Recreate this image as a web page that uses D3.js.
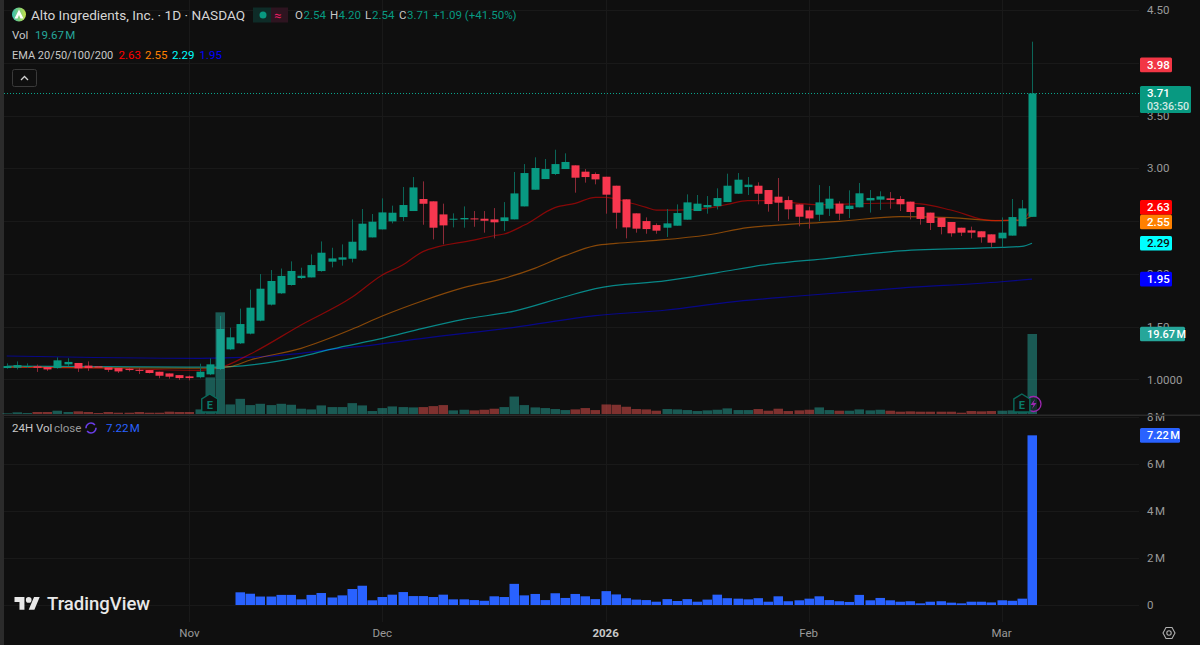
<!DOCTYPE html>
<html>
<head>
<meta charset="utf-8">
<script src="https://cdn.jsdelivr.net/npm/d3@7"></script>
<style>
  html, body { margin: 0; padding: 0; background: #0f0f0f; overflow: hidden; }
  text { font-family: Roboto, "Liberation Sans", sans-serif; }
</style>
</head>
<body>
<svg id="chart" width="1200" height="645"></svg>
<script>
// daily candles
var opens = [1.107,1.11,1.117,1.123,1.116,1.107,1.142,1.155,1.13,1.123,
  1.113,1.107,1.10,1.09,1.088,1.072,1.056,1.04,1.028,1.02,
  1.047,1.098,1.284,1.341,1.433,1.556,1.708,1.815,1.894,1.96,
  1.966,2.026,2.115,2.134,2.143,2.222,2.345,2.421,2.497,2.538,
  2.595,2.709,2.687,2.563,2.516,2.516,2.525,2.522,2.516,2.50,
  2.516,2.639,2.797,2.898,2.946,2.993,3.028,2.968,2.946,2.92,
  2.835,2.706,2.573,2.50,2.462,2.437,2.456,2.513,2.595,2.63,
  2.642,2.68,2.759,2.822,2.835,2.794,2.731,2.699,2.658,2.601,
  2.56,2.617,2.665,2.614,2.63,2.696,2.703,2.715,2.709,2.684,
  2.633,2.58,2.532,2.491,2.437,2.412,2.403,2.374,2.336,2.362,
  2.45,2.54];
var closes = [1.126,1.135,1.126,1.11,1.094,1.18,1.165,1.104,1.107,1.112,
  1.09,1.075,1.088,1.08,1.06,1.034,1.025,1.012,1.012,1.072,
  1.142,1.477,1.398,1.524,1.679,1.859,1.932,1.98,2.027,1.982,
  2.083,2.20,2.146,2.156,2.304,2.475,2.494,2.582,2.579,2.652,
  2.819,2.664,2.437,2.459,2.522,2.529,2.522,2.503,2.488,2.535,
  2.762,2.955,3.003,2.993,3.04,3.06,2.911,2.917,2.895,2.75,
  2.579,2.44,2.428,2.424,2.409,2.478,2.576,2.677,2.665,2.652,
  2.718,2.835,2.892,2.845,2.759,2.661,2.674,2.611,2.541,2.525,
  2.677,2.712,2.57,2.646,2.763,2.719,2.734,2.70,2.659,2.586,
  2.52,2.482,2.444,2.384,2.39,2.39,2.346,2.295,2.39,2.538,
  2.62,3.71];
var highs = [1.151,1.17,1.151,1.14,1.116,1.208,1.20,1.155,1.17,1.125,
  1.113,1.113,1.113,1.107,1.088,1.072,1.056,1.04,1.037,1.148,
  1.199,1.60,1.49,1.67,1.85,1.998,2.036,2.05,2.118,2.058,
  2.184,2.307,2.247,2.279,2.516,2.614,2.567,2.715,2.646,2.823,
  2.917,2.876,2.687,2.665,2.573,2.639,2.595,2.595,2.623,2.68,
  2.965,3.04,3.104,3.088,3.176,3.142,3.028,2.993,2.961,2.92,
  2.835,2.706,2.573,2.535,2.478,2.614,2.658,2.753,2.747,2.737,
  2.81,2.949,2.955,2.917,2.867,2.794,2.908,2.734,2.658,2.636,
  2.841,2.832,2.687,2.791,2.861,2.794,2.782,2.775,2.737,2.684,
  2.633,2.58,2.532,2.491,2.437,2.447,2.403,2.374,2.535,2.709,
  2.70,4.20];
var lows = [1.101,1.094,1.107,1.07,1.08,1.10,1.126,1.07,1.08,1.107,
  1.07,1.06,1.075,1.05,1.056,1.01,1.006,.994,.99,1.01,
  1.04,1.088,1.277,1.335,1.426,1.55,1.70,1.81,1.888,1.95,
  1.966,2.02,2.061,2.077,2.108,2.216,2.345,2.421,2.478,2.50,
  2.595,2.465,2.326,2.279,2.44,2.437,2.446,2.39,2.336,2.405,
  2.516,2.639,2.797,2.898,2.936,2.993,2.769,2.864,2.848,2.57,
  2.428,2.336,2.39,2.38,2.38,2.349,2.456,2.513,2.595,2.57,
  2.61,2.68,2.759,2.747,2.658,2.589,2.50,2.516,2.45,2.428,
  2.50,2.548,2.51,2.529,2.63,2.58,2.605,2.617,2.595,2.516,
  2.466,2.415,2.374,2.352,2.358,2.336,2.295,2.251,2.251,2.362,
  2.45,2.54];

// volume in millions
var volumes = [.16,.41,.24,.49,.49,.81,.49,.65,.49,.24,
  .49,.32,.32,.49,.32,.32,.57,.49,.49,1.13,
  9.0,25.0,2.35,3.73,2.19,2.51,2.19,2.51,2.27,1.30,
  1.13,2.11,1.70,1.70,2.67,2.11,.73,1.46,1.86,1.70,
  1.62,1.70,1.94,2.19,.89,1.05,.89,1.05,1.30,1.70,
  4.29,2.19,1.62,1.46,1.22,.97,1.13,1.46,.97,2.35,
  2.27,1.78,1.22,1.13,.81,1.22,1.13,.97,.73,.89,
  1.05,1.38,.97,.97,1.22,.81,1.30,.73,.89,1.05,
  1.62,.97,.81,.81,1.13,.89,1.05,.81,.57,.65,
  .57,.57,.57,.57,.32,.73,.65,.73,.81,.89,
  .5,19.67];

// 24H vol close in millions, first bar is candle 23
var vol24First = 23;
var vol24 = [.54,.48,.36,.36,.43,.43,.24,.43,.51,.32,
  .41,.68,.82,.20,.34,.44,.55,.38,.38,.34,
  .44,.24,.24,.21,.18,.37,.34,.90,.41,.47,
  .21,.50,.30,.47,.37,.25,.59,.45,.29,.23,
  .21,.14,.25,.17,.25,.14,.23,.44,.29,.27,
  .24,.29,.14,.37,.16,.20,.27,.37,.21,.16,
  .13,.43,.20,.30,.20,.14,.16,.07,.14,.16,
  .10,.07,.14,.14,.11,.20,.18,.27,7.22];

// EMA readings as [candle, price]
var ema20 = [[0,1.115],[10,1.105],[19,1.085],[21,1.11],[24,1.24],[29,1.515],[34,1.777],[37,1.989],[39,2.083],[41,2.21],[46,2.32],[48,2.361],[49,2.377],[51,2.462],[54,2.627],[56,2.668],[58,2.725],[59,2.725],[61,2.683],[63,2.63],[64,2.604],[66,2.604],[69,2.62],[71,2.658],[73,2.693],[75,2.693],[77,2.677],[80,2.655],[82,2.66],[88,2.671],[90,2.662],[93,2.605],[97,2.504],[100,2.51],[101,2.63]];
var ema50 = [[0,1.115],[20,1.105],[22,1.12],[24,1.183],[29,1.294],[34,1.474],[37,1.60],[41,1.745],[45,1.869],[49,1.957],[52,2.052],[55,2.172],[58,2.267],[60,2.288],[64,2.317],[69,2.368],[73,2.437],[77,2.469],[80,2.485],[82,2.497],[88,2.542],[93,2.532],[98,2.504],[100,2.51],[101,2.55]];
var ema100 = [[0,1.125],[20,1.115],[22,1.12],[29,1.215],[32,1.287],[37,1.388],[41,1.483],[45,1.568],[50,1.647],[55,1.783],[58,1.86],[65,1.935],[70,2.011],[75,2.09],[81,2.147],[88,2.218],[98,2.251],[100,2.26],[101,2.29]];
var ema200 = [[0,1.221],[19,1.199],[24,1.21],[29,1.246],[32,1.284],[36,1.325],[41,1.388],[50,1.493],[58,1.603],[65,1.657],[71,1.73],[78,1.79],[88,1.865],[98,1.925],[101,1.95]];
var emaColors = ["#ff0000", "#ff8000", "#00ffff", "#0000ff"];

var priceTicks = [1, 1.5, 2, 2.5, 3, 3.5, 4, 4.5];
var vol24Ticks = [0, 2, 4, 6, 8];
var monthTicks = [18, 37, 59, 79, 98];
var monthLabels = ["Nov", "Dec", "2026", "Feb", "Mar"];

var priceTags = [
  {v: 3.98, t: "3.98", bg: "#f23645", fg: "#fff"},
  {v: 2.63, t: "2.63", bg: "#ff0000", fg: "#fff"},
  {v: 2.55, t: "2.55", bg: "#ff8000", fg: "#fff"},
  {v: 2.29, t: "2.29", bg: "#00ffff", fg: "#0f0f0f"},
  {v: 1.95, t: "1.95", bg: "#0000ff", fg: "#fff"}
];

var upColor = "#089981", downColor = "#f7374f";
var gridColor = "#191919", labelColor = "#9a9a9a";
var axisX = 1139;

var svg = d3.select("#chart");
svg.append("rect").attr("width", 1200).attr("height", 645).attr("fill", "#0f0f0f");

// scales
var x = d3.scaleLinear().domain([0, closes.length - 1]).range([6.7, 1032]);
var yPrice = d3.scaleLinear().domain([0.662, 4.595]).range([415, 0]);
var yVol = d3.scaleLinear().domain([0, 19.67]).range([414, 334]);
var yVol24 = d3.scaleLinear().domain([0, 8]).range([605, 417]);

// grid
var grid = svg.append("g").attr("stroke", gridColor).attr("stroke-width", 1);
priceTicks.forEach(function(p) {
  grid.append("line").attr("x1", 4).attr("x2", axisX).attr("y1", Math.round(yPrice(p)) + .5).attr("y2", Math.round(yPrice(p)) + .5);
});
vol24Ticks.forEach(function(v) {
  grid.append("line").attr("x1", 4).attr("x2", axisX).attr("y1", Math.round(yVol24(v)) + .5).attr("y2", Math.round(yVol24(v)) + .5);
});
monthTicks.forEach(function(i) {
  grid.append("line").attr("x1", Math.round(x(i)) + .5).attr("x2", Math.round(x(i)) + .5).attr("y1", 0).attr("y2", 622);
});

// axes
var priceAxis = svg.append("g").attr("transform", "translate(" + axisX + ",0)")
  .call(d3.axisRight(yPrice).tickValues(priceTicks).tickSize(0).tickPadding(8)
    .tickFormat(function(d) { return d === 1 ? "1.0000" : d.toFixed(2); }));
var vol24Axis = svg.append("g").attr("transform", "translate(" + axisX + ",0)")
  .call(d3.axisRight(yVol24).tickValues(vol24Ticks).tickSize(0).tickPadding(8)
    .tickFormat(function(d) { return d === 0 ? "0" : d + "\u202fM"; }));
[priceAxis, vol24Axis].forEach(function(a) {
  a.select(".domain").remove();
  a.selectAll("text").attr("fill", labelColor).style("font-size", "11.5px");
});

// time labels
svg.append("g").selectAll("text").data(monthTicks).enter().append("text")
  .attr("x", function(d) { return x(d); })
  .attr("y", 637)
  .attr("text-anchor", "middle")
  .attr("fill", function(d, i) { return monthLabels[i] === "2026" ? "#c8c8c8" : labelColor; })
  .attr("font-size", 11.5)
  .attr("font-weight", function(d, i) { return monthLabels[i] === "2026" ? 700 : 400; })
  .text(function(d, i) { return monthLabels[i]; });

// separators and window edge
svg.append("rect").attr("x", 0).attr("y", 0).attr("width", 4).attr("height", 645).attr("fill", "#2b2b2b");
svg.append("rect").attr("x", 4).attr("y", 414.5).attr("width", 1196).attr("height", 1.5).attr("fill", "#2a2a2a");

// last price line
svg.append("line").attr("x1", 4).attr("x2", axisX)
  .attr("y1", Math.round(yPrice(closes[closes.length - 1])) + .5)
  .attr("y2", Math.round(yPrice(closes[closes.length - 1])) + .5)
  .attr("stroke", "#0aa58c").attr("stroke-dasharray", "1 2");

// EMAs
var emaLine = d3.line().curve(d3.curveMonotoneX)
  .x(function(d) { return x(d[0]); }).y(function(d) { return yPrice(d[1]); });
[ema200, ema100, ema50, ema20].forEach(function(s, i) {
  svg.append("path").datum(s)
    .attr("fill", "none")
    .attr("stroke", emaColors[3 - i])
    .attr("stroke-opacity", .5)
    .attr("stroke-width", 1.2)
    .attr("d", emaLine);
});

// candles
var candles = svg.append("g").selectAll("g").data(d3.range(closes.length)).enter().append("g");
candles.append("line")
  .attr("x1", function(i) { return Math.round(x(i)) + .5; })
  .attr("x2", function(i) { return Math.round(x(i)) + .5; })
  .attr("y1", function(i) { return yPrice(highs[i]); })
  .attr("y2", function(i) { return yPrice(lows[i]); })
  .attr("stroke", function(i) { return closes[i] >= opens[i] ? "#0b6558" : "#8c2a37"; })
  .attr("stroke-width", 1);
candles.append("rect")
  .attr("x", function(i) { return Math.round(x(i)) - 3.5; })
  .attr("width", 8)
  .attr("y", function(i) { return yPrice(Math.max(opens[i], closes[i])); })
  .attr("height", function(i) { return Math.max(1, Math.abs(yPrice(opens[i]) - yPrice(closes[i]))); })
  .attr("fill", function(i) { return closes[i] >= opens[i] ? upColor : downColor; });

// volume
svg.append("g").selectAll("rect").data(d3.range(volumes.length)).enter().append("rect")
  .attr("x", function(i) { return Math.round(x(i)) - 4.5; })
  .attr("width", 9.5)
  .attr("y", function(i) { return yVol(volumes[i]); })
  .attr("height", function(i) { return yVol(0) - yVol(volumes[i]); })
  .attr("fill", function(i) { return closes[i] >= opens[i] ? "#26a69a" : "#ef5350"; })
  .attr("fill-opacity", .5);

// 24H volume
svg.append("g").selectAll("rect").data(vol24).enter().append("rect")
  .attr("x", function(d, i) { return Math.round(x(i + vol24First)) - 4.5; })
  .attr("width", 9.5)
  .attr("y", function(d) { return yVol24(d); })
  .attr("height", function(d) { return yVol24(0) - yVol24(d); })
  .attr("fill", "#2962ff");

// earnings markers
function earnings(i) {
  var g = svg.append("g").attr("transform", "translate(" + x(i) + ",404)");
  g.append("path").attr("d", "M0,-10 L8,-5 L8,8 L-8,8 L-8,-5 Z")
    .attr("fill", "#0f0f0f").attr("stroke", "#0a6a5c").attr("stroke-width", 1.4);
  g.append("text").attr("y", 4.5).attr("text-anchor", "middle").attr("font-size", 11).attr("font-weight", 700)
    .attr("fill", "#0a7a6a").text("E");
}
var earningsAt = [20, 100];
svg.append("g").attr("transform", "translate(" + (x(101) + 1.5) + ",404)").call(function(g) {
  g.append("circle").attr("r", 7.5).attr("fill", "#0f0f0f").attr("fill-opacity", .6).attr("stroke", "#9c27b0").attr("stroke-width", 1.3);
  g.append("path").attr("d", "M1.5,-5 L-3,1 L0,1 L-1.5,5 L3,-1 L0,-1 Z").attr("fill", "#9c27b0");
});
earningsAt.forEach(earnings);

// right side tags
function tag(y, w, h, bg) {
  svg.append("rect").attr("x", 1140).attr("y", y).attr("width", w).attr("height", h).attr("rx", 1.5).attr("fill", bg);
}
function tagText(xp, y, s, fill, size) {
  svg.append("text").attr("x", xp).attr("y", y).attr("fill", fill).attr("font-size", size || 11.5).attr("font-weight", 500).text(s);
}
var prevBottom = 0;
priceTags.forEach(function(t) {
  var top = Math.max(yPrice(t.v) - 7.3, prevBottom);
  tag(top, 32, 14.6, t.bg);
  tagText(1147, top + 11.2, t.t, t.fg);
  prevBottom = top + 14.6;
});
var lastY = yPrice(closes[closes.length - 1]);
tag(lastY - 7.3, 51, 27, upColor);
tagText(1147, lastY + 4, "3.71", "#fff");
tagText(1147, lastY + 17, "03:36:50", "#cfe9e4", 10.7);
tag(yVol(19.67) - 7.3, 45, 14.6, "#26a69a");
tagText(1147, yVol(19.67) + 4, "19.67\u202fM", "#fff", 11);
tag(yVol24(7.22) - 7.3, 40, 14.6, "#2962ff");
tagText(1147, yVol24(7.22) + 4, "7.22\u202fM", "#fff", 11);

// legend
var head = svg.append("g");
var logoGrad = svg.append("defs").append("linearGradient").attr("id", "logoGrad").attr("x1", 0).attr("x2", 1).attr("y1", .5).attr("y2", .5);
logoGrad.append("stop").attr("offset", 0).attr("stop-color", "#38c0b0");
logoGrad.append("stop").attr("offset", 1).attr("stop-color", "#c6e04a");
head.append("circle").attr("cx", 19).attr("cy", 14.5).attr("r", 7).attr("fill", "url(#logoGrad)");
head.append("path").attr("d", "M19,9.5 L23.5,18.5 L20.5,18.5 L19,15 L17.5,18.5 L14.5,18.5 Z").attr("fill", "#fff");

function legend(xp, y, s, fill, size) {
  head.append("text").attr("x", xp).attr("y", y).attr("fill", fill).attr("font-size", size).text(s);
}
legend(31, 19.5, "Alto Ingredients, Inc. · 1D · NASDAQ", "#d6d6d6", 13.6);
head.append("rect").attr("x", 253).attr("y", 7.5).attr("width", 18).attr("height", 15).attr("fill", "#0e2c28");
head.append("rect").attr("x", 271).attr("y", 7.5).attr("width", 17).attr("height", 15).attr("fill", "#2e1420");
head.append("circle").attr("cx", 263).attr("cy", 15).attr("r", 3.5).attr("fill", "#089981");
legend(274, 19.5, "≈", "#e91e63", 13);

var ohlcLabels = ["O", "H", "L", "C"];
var ohlcValues = ["2.54", "4.20", "2.54", "3.71"];
var ohlcX = [295, 330, 365, 399];
var ohlcValueX = [303.5, 338.5, 372, 407];
ohlcLabels.forEach(function(l, i) {
  legend(ohlcX[i], 19, l, "#c8c8c8", 11.5);
  legend(ohlcValueX[i], 19, ohlcValues[i], upColor, 11.5);
});
legend(433, 19, "+1.09 (+41.50%)", upColor, 11.5);

legend(12, 39, "Vol", "#c8c8c8", 11.5);
legend(35, 39, "19.67\u202fM", "#26a69a", 11.5);
legend(12, 59, "EMA 20/50/100/200", "#c8c8c8", 11);
var emaValues = ["2.63", "2.55", "2.29", "1.95"];
var emaValueX = [118.5, 145, 172, 199.5];
emaValues.forEach(function(v, i) {
  legend(emaValueX[i], 59, v, emaColors[i], 11.5);
});

head.append("rect").attr("x", 12.5).attr("y", 69.5).attr("width", 24).attr("height", 17).attr("rx", 2)
  .attr("fill", "#0f0f0f").attr("stroke", "#3a3a3a");
head.append("path").attr("d", "M21,80 L24.5,76.5 L28,80").attr("fill", "none").attr("stroke", "#d0d0d0").attr("stroke-width", 1.3);

// 24H vol legend
legend(12, 432, "24H Vol", "#c8c8c8", 11.5);
legend(54, 432, "close", "#9a9a9a", 11.5);
head.append("path").attr("d", "M86,428 A5,5 0 0 1 96,428 M96,428 A5,5 0 0 1 86,428").attr("fill", "none")
  .attr("stroke", "#6a3de8").attr("stroke-width", 1.6).attr("stroke-dasharray", "12 3");
legend(106, 432, "7.22\u202fM", "#2962ff", 11.5);

// watermark
var mark = svg.append("g").attr("transform", "translate(14.5,594.2) scale(.71)").attr("fill", "#e8e8e8");
mark.append("path").attr("d", "M14 22H7V11H0V4h14v18zM28 22h-8l7.5-18h8L28 22z");
mark.append("circle").attr("cx", 20).attr("cy", 8).attr("r", 4);
svg.append("text").attr("x", 47).attr("y", 610).attr("fill", "#e8e8e8").attr("font-size", 18.5).attr("font-weight", 500).text("TradingView");

// settings icon
svg.append("path").attr("d", "M1163,633 L1166,627.5 L1172,627.5 L1175,633 L1172,638.5 L1166,638.5 Z")
  .attr("fill", "none").attr("stroke", "#b0b0b0").attr("stroke-width", 1.1);
svg.append("circle").attr("cx", 1169).attr("cy", 633).attr("r", 2.2).attr("fill", "none").attr("stroke", "#b0b0b0").attr("stroke-width", 1.1);
</script>
</body>
</html>
